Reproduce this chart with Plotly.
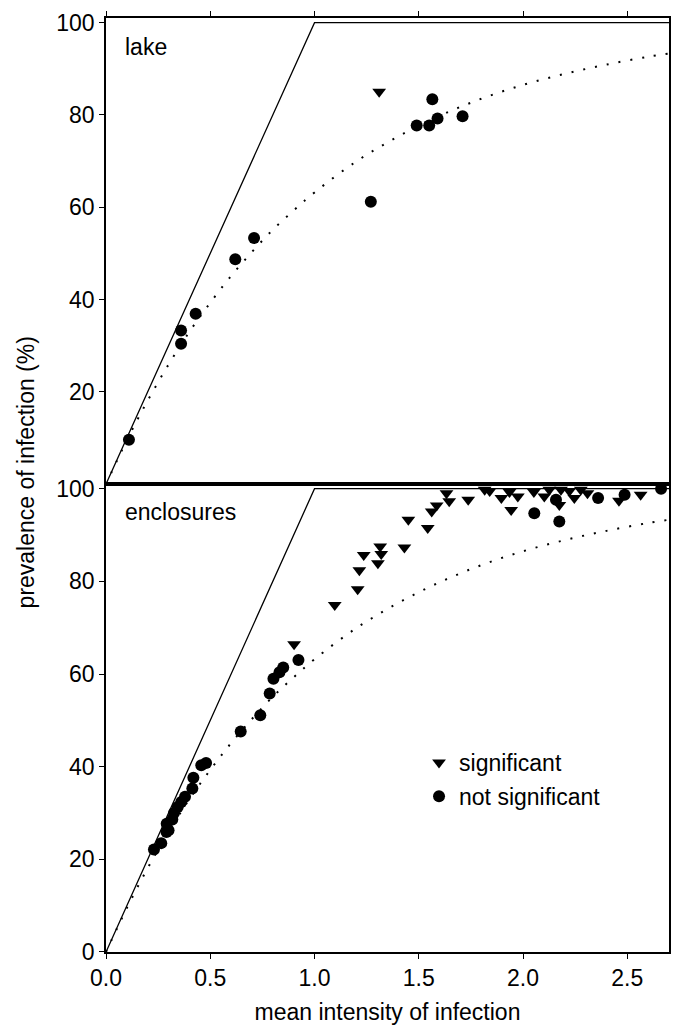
import plotly.graph_objects as go

# ---------------- data ----------------
# lake panel
lake_ns_x = [0.11, 0.36, 0.36, 0.43, 0.62, 0.71, 1.27, 1.49, 1.55, 1.565, 1.59, 1.71]
lake_ns_y = [9.6, 33.3, 30.4, 36.9, 48.7, 53.3, 61.2, 77.7, 77.7, 83.4, 79.2, 79.7]
lake_sig_x = [1.31]
lake_sig_y = [85.0]

# enclosures panel
encl_sig_x = [0.902, 1.097, 1.207, 1.215, 1.236, 1.304, 1.315, 1.320, 1.431, 1.450,
              1.543, 1.562, 1.586, 1.633, 1.646, 1.737, 1.816, 1.840, 1.896, 1.935,
              1.943, 1.975, 2.052, 2.102, 2.126, 2.174, 2.182, 2.222, 2.246, 2.277,
              2.309, 2.460, 2.564]
encl_sig_y = [66.4, 74.9, 78.3, 82.4, 85.7, 83.9, 87.5, 85.9, 87.3, 93.3,
              91.5, 95.1, 96.4, 99.0, 97.3, 97.6, 99.8, 99.5, 98.0, 99.3,
              95.4, 98.3, 99.3, 98.3, 99.8, 96.5, 99.8, 99.5, 98.0, 99.8,
              99.0, 97.4, 98.7]
encl_ns_x = [0.230, 0.265, 0.290, 0.300, 0.291, 0.318, 0.326, 0.344, 0.361, 0.379,
             0.414, 0.419, 0.457, 0.480, 0.646, 0.740, 0.785, 0.803, 0.832, 0.850,
             0.923, 2.054, 2.158, 2.174, 2.360, 2.487, 2.662]
encl_ns_y = [22.1, 23.5, 25.9, 26.3, 27.7, 28.6, 30.0, 31.3, 32.4, 33.5,
             35.3, 37.6, 40.3, 40.8, 47.6, 51.1, 55.8, 59.0, 60.4, 61.4,
             63.0, 94.7, 97.6, 92.9, 98.0, 98.7, 100.0]

# reference lines
max_x = [0.0, 1.0, 2.7]
max_y = [0.0, 100.0, 100.0]
pois_x = [0.0, 0.1, 0.2, 0.3, 0.4, 0.5, 0.6, 0.7, 0.8, 0.9, 1.0, 1.2, 1.4, 1.6,
          1.8, 2.0, 2.2, 2.4, 2.6, 2.7]
pois_y = [0.0, 9.5, 18.1, 25.9, 33.0, 39.3, 45.1, 50.3, 55.1, 59.3, 63.2, 69.9,
          75.3, 79.8, 83.5, 86.5, 88.9, 90.9, 92.6, 93.3]

x_ticks = [0.0, 0.5, 1.0, 1.5, 2.0, 2.5]
x_ticktext = ["0.0", "0.5", "1.0", "1.5", "2.0", "2.5"]

FONT = "Liberation Sans, Arial, sans-serif"
FS = 23

fig = go.Figure()

def add_panel(xa, ya, sig_x, sig_y, ns_x, ns_y, legend):
    fig.add_trace(go.Scatter(x=max_x, y=max_y, mode="lines", xaxis=xa, yaxis=ya,
                             line=dict(color="black", width=1.3), showlegend=False,
                             hoverinfo="skip"))
    fig.add_trace(go.Scatter(x=pois_x, y=pois_y, mode="lines", xaxis=xa, yaxis=ya,
                             line=dict(color="black", width=2, dash="2px,10px",
                                       shape="spline"),
                             showlegend=False, hoverinfo="skip"))
    fig.add_trace(go.Scatter(x=sig_x, y=sig_y, mode="markers", xaxis=xa, yaxis=ya,
                             name="significant", showlegend=legend,
                             legendgroup="sig",
                             marker=dict(symbol="triangle-down", size=12, color="black")))
    fig.add_trace(go.Scatter(x=ns_x, y=ns_y, mode="markers", xaxis=xa, yaxis=ya,
                             name="not significant", showlegend=legend,
                             legendgroup="ns",
                             marker=dict(symbol="circle", size=12, color="black")))

add_panel("x", "y", encl_sig_x, encl_sig_y, encl_ns_x, encl_ns_y, True)
add_panel("x2", "y2", lake_sig_x, lake_sig_y, lake_ns_x, lake_ns_y, False)

axis_common = dict(showline=True, linecolor="black", linewidth=1.5, mirror=True,
                   ticks="outside", ticklen=5, tickwidth=1.2, tickcolor="black",
                   showgrid=False, zeroline=False,
                   tickfont=dict(family=FONT, size=FS, color="black"))

fig.update_layout(
    width=674, height=1034,
    margin=dict(l=106, r=3, t=18, b=82),
    paper_bgcolor="white", plot_bgcolor="white",
    font=dict(family=FONT, size=FS, color="black"),
    xaxis=dict(range=[0, 2.7], domain=[0, 1], anchor="y",
               tickvals=x_ticks, ticktext=x_ticktext,
               title=dict(text="mean intensity of infection", standoff=14,
                          font=dict(family=FONT, size=FS)),
               **axis_common),
    yaxis=dict(range=[0, 101], domain=[0, 0.501], anchor="x",
               tickvals=[0, 20, 40, 60, 80, 100], **axis_common),
    xaxis2=dict(range=[0, 2.7], domain=[0, 1], anchor="y2", side="top",
                tickvals=x_ticks, showticklabels=False, **axis_common),
    yaxis2=dict(range=[0, 101], domain=[0.501, 1], anchor="x2",
                tickvals=[20, 40, 60, 80, 100], **axis_common),
    legend=dict(x=0.556, y=0.2259, xanchor="left", yanchor="top",
                bgcolor="rgba(0,0,0,0)", borderwidth=0, tracegroupgap=1,
                itemwidth=30, font=dict(family=FONT, size=FS)),
    showlegend=True,
    annotations=[
        dict(text="lake", x=0.082, y=94.8, xref="x2", yref="y2",
             xanchor="left", yanchor="middle", showarrow=False,
             font=dict(family=FONT, size=FS)),
        dict(text="enclosures", x=0.082, y=95.0, xref="x", yref="y",
             xanchor="left", yanchor="middle", showarrow=False,
             font=dict(family=FONT, size=FS)),
        dict(text="prevalence of infection (%)", textangle=-90,
             x=-0.143, y=0.514, xref="paper", yref="paper",
             xanchor="center", yanchor="middle", showarrow=False,
             font=dict(family=FONT, size=FS)),
    ],
)

fig.write_html("out.html", config={"displayModeBar": False},
               post_script="document.body.style.margin='0';document.body.style.padding='0';")
